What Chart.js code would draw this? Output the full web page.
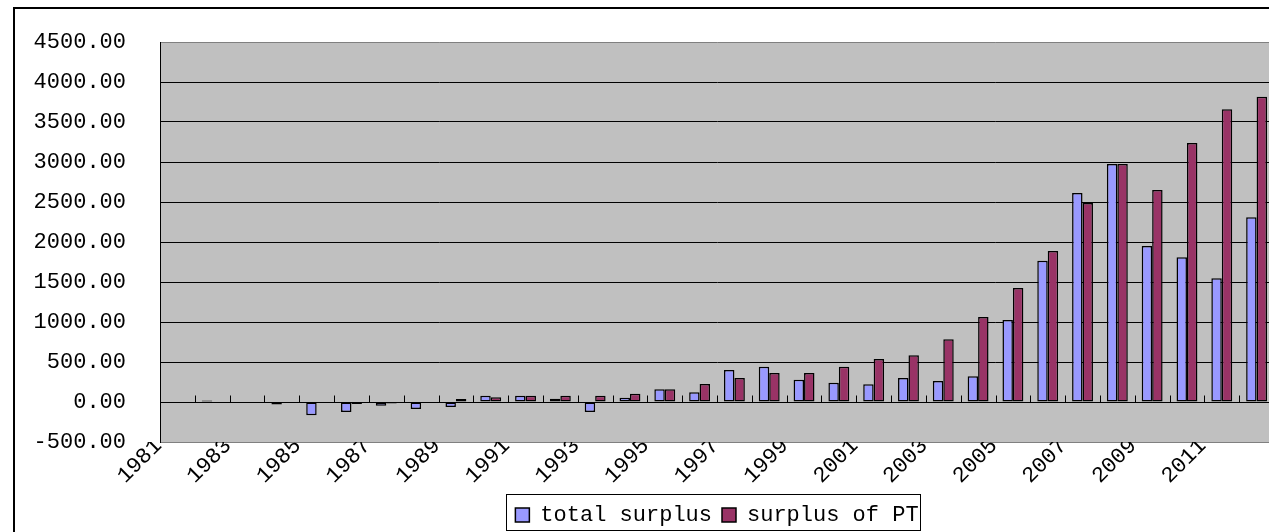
<!DOCTYPE html>
<html>
<head>
<meta charset="utf-8">
<title>Surplus</title>
<script src="https://cdn.jsdelivr.net/npm/chart.js@4.4.1/dist/chart.umd.min.js"></script>
<style>
	html, body { margin: 0; padding: 0; background: #fff; overflow: hidden; }
	#wrap { width: 1410px; height: 545px; }
</style>
</head>
<body>
<div id="wrap"><canvas id="surplusChart" width="1410" height="545"></canvas></div>
<script>
const years = ['1981', '1982', '1983', '1984', '1985', '1986', '1987', '1988', '1989', '1990',
	'1991', '1992', '1993', '1994', '1995', '1996', '1997', '1998', '1999', '2000',
	'2001', '2002', '2003', '2004', '2005', '2006', '2007', '2008', '2009', '2010',
	'2011', '2012'];
const totalSurplus = [null, 20, null, -30, -167, -125, -46, -88, -63, 79,
	79, 40, -125, 54, 158, 121, 400, 442, 279, 242,
	221, 300, 262, 321, 1025, 1767, 2613, 2975, 1950, 1809,
	1546, 2309];
const surplusPT = [null, null, null, null, null, -25, -20, null, 38, 58,
	79, 79, 79, 104, 158, 225, 300, 362, 362, 442,
	538, 583, 783, 1063, 1425, 1888, 2488, 2975, 2650, 3238,
	3659, 3817];
const yMin = -500;
const yMax = 4500;
const yStep = 500;

const FONT = { family: "'Liberation Mono', 'DejaVu Sans Mono', monospace", size: 22 };

// grey plot area, little ticks on the zero line, frames
const excelLook = {
	id: 'excelLook',
	beforeDraw(chart) {
		const { ctx, chartArea: a } = chart;
		ctx.save();
		ctx.fillStyle = '#c0c0c0';
		ctx.fillRect(a.left, a.top, a.right - a.left, a.bottom - a.top);
		ctx.restore();
	},
	afterDatasetsDraw(chart) {
		const { ctx, scales } = chart;
		const x = scales.x, y = scales.y;
		const y0 = Math.round(y.getPixelForValue(0)) + 0.5;
		const n = x.ticks.length;
		const step = x.width / n;
		ctx.save();
		ctx.strokeStyle = '#000';
		ctx.lineWidth = 1;
		ctx.beginPath();
		ctx.moveTo(x.left, y0);
		ctx.lineTo(x.right, y0);
		for (let i = 0; i <= n; i++) {
			const px = Math.round(x.left + i * step) + 0.5;
			ctx.moveTo(px, y0);
			ctx.lineTo(px, y0 - 7);
		}
		ctx.stroke();
		ctx.restore();
	},
	afterDraw(chart) {
		const ctx = chart.ctx;
		const boxes = chart.legend.legendHitBoxes;
		ctx.save();
		ctx.strokeStyle = '#000';
		if (boxes && boxes.length) {
			const first = boxes[0], last = boxes[boxes.length - 1];
			const mid = first.top + first.height / 2;
			ctx.lineWidth = 1;
			ctx.strokeRect(Math.round(first.left - 9) + 0.5, Math.round(mid - 21) + 0.5,
				Math.round(last.left + last.width - first.left + 11), 36);
		}
		ctx.lineWidth = 2;
		ctx.strokeRect(14, 8, chart.width + 20, chart.height + 20);
		ctx.restore();
	}
};

new Chart(document.getElementById('surplusChart').getContext('2d'), {
	type: 'bar',
	data: {
		labels: years,
		datasets: [
			{
				label: 'total surplus',
				data: totalSurplus,
				backgroundColor: '#9999ff',
				borderColor: '#000',
				borderWidth: 1.5,
				borderSkipped: false
			},
			{
				label: 'surplus of PT',
				data: surplusPT,
				backgroundColor: '#993366',
				borderColor: '#000',
				borderWidth: 1.5,
				borderSkipped: false
			}
		]
	},
	options: {
		responsive: false,
		animation: false,
		devicePixelRatio: 1,
		layout: { padding: { top: 42, left: 0, right: 136, bottom: 9 } },
		datasets: { bar: { categoryPercentage: 0.6, barPercentage: 1 } },
		plugins: {
			tooltip: { enabled: false },
			legend: {
				position: 'bottom',
				fullSize: false,
				labels: {
					color: '#000',
					font: FONT,
					boxWidth: 14,
					boxHeight: 14,
					padding: 10
				}
			}
		},
		scales: {
			x: {
				grid: { display: false, drawTicks: false },
				border: { color: '#808080', width: 1 },
				ticks: {
					autoSkip: false,
					minRotation: 45,
					maxRotation: 45,
					labelOffset: -19,
					padding: -9,
					color: '#000',
					font: FONT,
					callback: (v, i) => (i % 2 === 0 ? years[i] : '')
				},
				afterFit(s) { s.height = 52; }
			},
			y: {
				min: yMin,
				max: yMax,
				grid: {
					drawTicks: false,
					color: c => (c.tick && (c.tick.value === yMax || c.tick.value === yMin) ? '#808080' : '#000')
				},
				border: { color: '#000', width: 1 },
				ticks: {
					stepSize: yStep,
					padding: 34,
					color: '#000',
					font: FONT,
					callback: v => Number(v).toFixed(2)
				},
				afterFit(s) {
					s.width = 160;
					s.paddingTop = 14;
					s.paddingBottom = 14;
				}
			}
		}
	},
	plugins: [excelLook]
});
</script>
</body>
</html>
